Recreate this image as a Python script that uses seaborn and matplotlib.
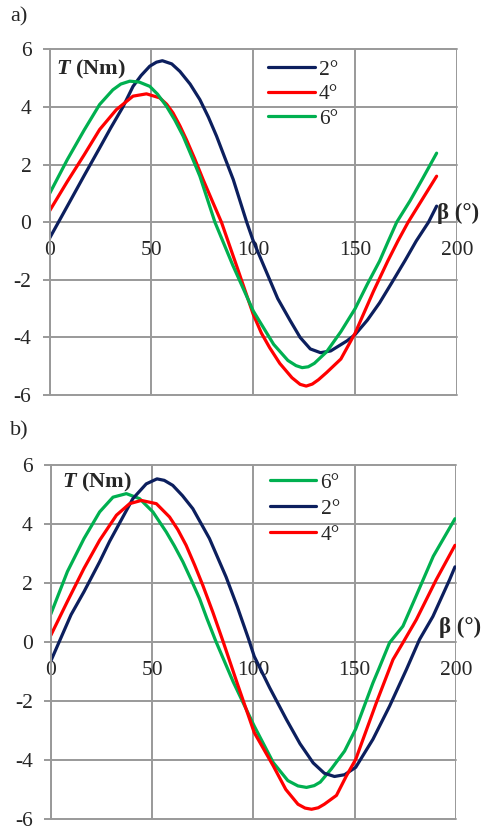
import matplotlib
matplotlib.use("Agg")
import pandas as pd
import matplotlib.pyplot as plt
import seaborn as sns

# ---- panel a) torque vs rotor angle ----
a_beta_2 = [0, 10, 17, 24.6, 30, 36, 41, 45, 49.2, 52.5, 55.4, 60, 64, 69, 73.8, 78, 82, 86, 90.2,
            96.8, 100, 106, 112, 118, 123, 128, 133, 138, 146, 150, 156, 162, 168, 174.5, 180,
            186, 190]
a_T_2 = [-0.56, 0.72, 1.62, 2.58, 3.27, 4.0, 4.72, 5.1, 5.42, 5.56, 5.61, 5.5, 5.24, 4.8, 4.26,
         3.65, 2.99, 2.25, 1.48, 0.0, -0.65, -1.65, -2.65, -3.4, -4.0, -4.4, -4.53, -4.47, -4.12,
         -3.9, -3.4, -2.8, -2.1, -1.33, -0.65, 0.0, 0.56]

a_beta_4 = [0, 8.7, 17, 24.6, 32.8, 41, 47.6, 54.1, 57.5, 60.6, 64, 67.2, 71.3, 75.4, 80, 84.4,
            92, 100, 104, 108, 113, 119, 123, 126, 129, 132, 136, 143, 150, 159, 166, 171, 176,
            183, 190]
a_T_4 = [0.39, 1.41, 2.34, 3.22, 3.91, 4.38, 4.46, 4.32, 4.1, 3.8, 3.35, 2.87, 2.2, 1.48, 0.72,
         0.0, -1.55, -3.2, -3.85, -4.35, -4.9, -5.4, -5.63, -5.69, -5.62, -5.47, -5.22, -4.75,
         -3.85, -2.4, -1.35, -0.65, 0.0, 0.8, 1.6]

a_beta_6 = [0, 8.7, 17, 24.6, 31.1, 35, 39.4, 44, 49.2, 53, 57.4, 61.5, 65.6, 69.7, 73.8, 77.5,
            81.2, 90, 100, 110, 117, 121, 124, 127, 130, 136, 143, 150, 156, 162, 166, 170.4,
            177, 183, 190]
a_T_6 = [0.99, 2.17, 3.2, 4.09, 4.6, 4.8, 4.9, 4.87, 4.72, 4.45, 4.03, 3.55, 2.99, 2.3, 1.6, 0.8,
         0.0, -1.5, -3.08, -4.24, -4.8, -4.98, -5.05, -5.02, -4.9, -4.5, -3.8, -3.0, -2.15,
         -1.35, -0.7, 0.0, 0.75, 1.5, 2.4]

# ---- panel b) ----
b_beta_2 = [0, 10, 16.4, 24.1, 29, 34, 40.5, 47.1, 52.4, 56, 60.2, 65, 70.1, 78.3, 86.5, 92,
            97.6, 100.4, 108, 116.3, 123, 129.5, 135, 140, 145, 150.5, 159, 167.2, 175.5, 182,
            188.6, 196.8, 199.5]
b_T_2 = [-0.65, 0.92, 1.7, 2.71, 3.4, 4.03, 4.85, 5.35, 5.52, 5.47, 5.3, 4.95, 4.51, 3.5, 2.2,
         1.2, 0.1, -0.49, -1.55, -2.63, -3.45, -4.1, -4.45, -4.56, -4.5, -4.25, -3.3, -2.18,
         -0.94, 0.08, 0.86, 2.1, 2.54]

b_beta_4 = [0, 8.2, 16.4, 24.1, 32.4, 38.9, 44.7, 52.1, 58.6, 62.7, 66.8, 71, 75, 80, 85.1, 92,
            100.4, 109.8, 116, 122, 125.5, 128.7, 132, 135, 141, 145.9, 150.5, 160.7, 168.9,
            173.8, 180.4, 190.2, 199.5]
b_T_4 = [0.22, 1.37, 2.49, 3.44, 4.29, 4.68, 4.79, 4.68, 4.23, 3.8, 3.27, 2.6, 1.92, 1.0, 0.0,
         -1.4, -3.07, -4.2, -5.0, -5.5, -5.63, -5.67, -5.62, -5.5, -5.2, -4.54, -3.98, -2.06,
         -0.6, -0.03, 0.75, 2.1, 3.27]

b_beta_6 = [0, 8.2, 16.4, 24.1, 30.7, 37.3, 43.8, 50.4, 57, 61, 65.2, 69.3, 73.4, 77, 81.4, 90,
            100.4, 109.8, 117, 122, 126.2, 130, 133, 138.5, 145, 150.5, 159, 162, 167.2, 173.8,
            180.6, 188.8, 199.5]
b_T_6 = [0.94, 2.38, 3.5, 4.4, 4.9, 5.02, 4.85, 4.4, 3.72, 3.25, 2.71, 2.1, 1.47, 0.8, 0.03,
         -1.35, -2.85, -4.09, -4.7, -4.88, -4.93, -4.87, -4.75, -4.3, -3.7, -2.95, -1.39, -0.9,
         -0.03, 0.53, 1.6, 2.9, 4.17]

x_ticks = [0, 50, 100, 150, 200]
y_ticks = [-6, -4, -2, 0, 2, 4, 6]


def to_frame(series):
    parts = []
    for name, xs, ys in series:
        parts.append(pd.DataFrame({'beta': xs, 'T': ys, 'angle': name}))
    return pd.concat(parts, ignore_index=True)


df_a = to_frame([('2°', a_beta_2, a_T_2), ('4°', a_beta_4, a_T_4), ('6°', a_beta_6, a_T_6)])
df_b = to_frame([('2°', b_beta_2, b_T_2), ('4°', b_beta_4, b_T_4), ('6°', b_beta_6, b_T_6)])

sns.set_style("white")
plt.rcParams['font.family'] = ['Liberation Serif', 'DejaVu Serif']
plt.rcParams['mathtext.fontset'] = 'custom'
plt.rcParams['mathtext.it'] = 'Liberation Serif:italic:bold'
plt.rcParams['mathtext.rm'] = 'Liberation Serif:bold'
plt.rcParams['axes.unicode_minus'] = False

colors = {'2°': '#0c1f5e', '4°': '#ff0000', '6°': '#00b050'}
grid_c = '#999999'
fs = 15.5

fig = plt.figure(figsize=(4.82, 8.30), dpi=100)
ax_a = fig.add_axes([49.5 / 482, 1 - 395 / 830, 407.5 / 482, 345.5 / 830])
ax_b = fig.add_axes([50.8 / 482, 1 - 819 / 830, 405.2 / 482, 354.3 / 830])


def draw_panel(ax, df, order, leg_anchor, leg_space, t_pos, beta_pos):
    sns.lineplot(data=df, x='beta', y='T', hue='angle', hue_order=order, palette=colors,
                 estimator=None, sort=False, lw=2.3, ax=ax)
    ax.set_xlim(0, 200)
    ax.set_ylim(-6, 6)
    ax.set_xticks(x_ticks)
    ax.set_yticks(y_ticks)
    ax.set_xlabel('')
    ax.set_ylabel('')
    ax.grid(True, color=grid_c, lw=1.4)
    for gl in ax.get_xgridlines() + ax.get_ygridlines():
        gl.set_clip_on(False)
    for s in ['top', 'right']:
        ax.spines[s].set_visible(False)
    ax.spines['left'].set_color(grid_c)
    ax.spines['left'].set_linewidth(1.4)
    ax.spines['bottom'].set_position(('data', 0))
    ax.spines['bottom'].set_visible(False)
    ax.tick_params(axis='x', length=0, pad=13.5, labelsize=fs)
    ax.tick_params(axis='y', length=5, width=1.4, color=grid_c, pad=8, labelsize=fs, left=True)

    handles, labels = ax.get_legend_handles_labels()
    ax.legend(handles=handles, labels=labels, loc='upper left', bbox_to_anchor=leg_anchor,
              frameon=False, fontsize=fs, borderpad=0, borderaxespad=0,
              handlelength=2.15, handletextpad=0.2, labelspacing=leg_space)

    ax.text(t_pos[0], t_pos[1], '$T$ (Nm)', transform=ax.transAxes, fontsize=fs + 0.5,
            fontweight='bold', va='baseline')
    ax.text(beta_pos[0], beta_pos[1], 'β (°)', fontsize=fs + 1, fontweight='bold',
            va='baseline', ha='left', clip_on=False)


draw_panel(ax_a, df_a, ['2°', '4°', '6°'], (0.537, 0.97), 0.2, (0.015, 0.929), (190.3, 0.13))
draw_panel(ax_b, df_b, ['6°', '2°', '4°'], (0.541, 0.978), 0.28, (0.028, 0.937), (191.5, 0.3))

fig.text(10 / 482, 1 - 21 / 830, 'a)', fontsize=fs + 0.5, va='baseline')
fig.text(10 / 482, 1 - 435 / 830, 'b)', fontsize=fs + 0.5, va='baseline')

fig.savefig('out.png', dpi=100)
